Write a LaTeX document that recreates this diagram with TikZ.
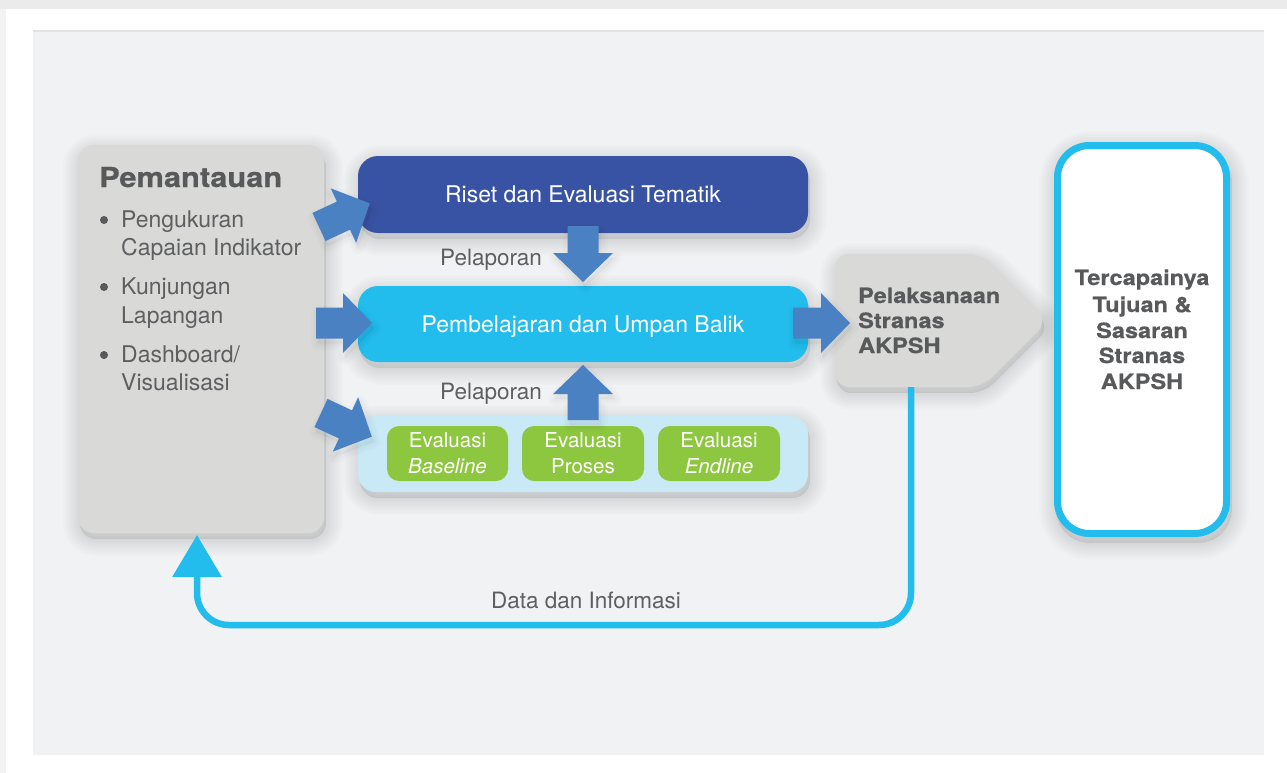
\documentclass[tikz,border=0pt]{standalone}
\usepackage{fontspec}
\setmainfont{TeX Gyre Heros}
\newfontfamily\headfont[FakeStretch=1.12,FakeBold=0.6]{TeX Gyre Heros}
\usetikzlibrary{arrows.meta}

\definecolor{outerband}{HTML}{EBEBEB}
\definecolor{panelbg}{HTML}{F1F2F4}
\definecolor{paneledge}{HTML}{E2E3E5}
\definecolor{boxgray}{HTML}{D9D9D8}
\definecolor{textgray}{HTML}{58595B}
\definecolor{lighttext}{HTML}{5E5F61}
\definecolor{darkblue}{HTML}{3953A4}
\definecolor{cyanblue}{HTML}{22BDEC}
\definecolor{paleblue}{HTML}{C9E9F7}
\definecolor{evalgreen}{HTML}{8DC63F}
\definecolor{arrowblue}{HTML}{4A81C2}

% block arrow outline: tail centre (x,y), angle, length
\newcommand\bkarrowpath[4]{[shift={(#1,#2)}, rotate=#3]
    (0,-15.5) -- ({#4-29},-15.5) -- ({#4-29},-30) -- (#4,0)
    -- ({#4-29},30) -- ({#4-29},15.5) -- (0,15.5) -- cycle}
\newcommand\bkarrow[4]{%
  \foreach \w in {2,6,10,14}{%
    \path[shadelayer,line width=\w pt,shift={(2,5)}] \bkarrowpath{#1}{#2}{#3}{#4};}
  \fill[fill=arrowblue] \bkarrowpath{#1}{#2}{#3}{#4};}

% soft drop shadow built from stacked translucent layers
\newcommand\dropshade[1]{%
  \foreach \w in {2,6,...,34}{%
    \path[shadelayer,line width=\w pt,shift={(2,6)}] #1;}}

\begin{document}
\begin{tikzpicture}[x=1pt,y=-1pt,
  shadelayer/.style={fill=black,fill opacity=0.007,draw=black,draw opacity=0.012,line join=round},
  panelbox/.style={anchor=north west,inner sep=0pt,outer sep=0pt},
  boxtext/.style={text=white,font=\fontsize{23}{28}\selectfont,anchor=base,inner sep=0pt},
  evaltext/.style={text=white,font=\fontsize{20.5}{24}\selectfont,anchor=base,inner sep=0pt},
  graytext/.style={text=lighttext,font=\fontsize{22.5}{28}\selectfont,anchor=base west,inner sep=0pt},
  headtext/.style={text=textgray,font=\headfont\bfseries\fontsize{21}{25}\selectfont,inner sep=0pt},
  bulletdot/.style={circle,fill=textgray,inner sep=0pt,minimum size=8pt},
  feedback/.style={draw=cyanblue,line width=6.5pt,rounded corners=32pt,
      -{Triangle[length=42pt,width=48pt]}}]

\useasboundingbox (0,0) rectangle (1287,773);

% page and panel background
\fill[white] (0,0) rectangle (1287,773);
\fill[outerband] (0,0) rectangle (1287,9);
\fill[outerband!60!white] (0,9) rectangle (6,773);
\fill[panelbg] (33,30) rectangle (1264,755);
\fill[paneledge] (33,30) rectangle (1264,32);

% shadows under the boxes
\dropshade{[rounded corners=16pt] (78,145) rectangle (324,533)}
\dropshade{[rounded corners=20pt] (358,156) rectangle (808,233)}
\dropshade{[rounded corners=20pt] (358,286) rectangle (808,362)}
\dropshade{[rounded corners=18pt] (358,416) rectangle (808,492)}
\dropshade{[rounded corners=14pt] (900,387) -- (835,387) -- (835,254) -- (982,254) -- (1048,321) -- (982,387) -- cycle}
\dropshade{[rounded corners=34pt] (1054,142) rectangle (1230,537)}

% monitoring box
\node[panelbox,fill=boxgray,rounded corners=16pt,
      minimum width=246pt,minimum height=388pt] (pem) at (78,145) {};
\node[headtext,font=\headfont\bfseries\fontsize{27.5}{30}\selectfont,anchor=base west]
      (pemtitle) at (99,187) {Pemantauan};
\node[bulletdot] (b1) at (104,220) {};
\node[bulletdot] (b2) at (104,287) {};
\node[bulletdot] (b3) at (104,355) {};
\node[graytext,font=\fontsize{23}{28}\selectfont] (i1a) at (121,227) {Pengukuran};
\node[graytext,font=\fontsize{23}{28}\selectfont] (i1b) at (121,255) {Capaian Indikator};
\node[graytext,font=\fontsize{23}{28}\selectfont] (i2a) at (121,294) {Kunjungan};
\node[graytext,font=\fontsize{23}{28}\selectfont] (i2b) at (121,323) {Lapangan};
\node[graytext,font=\fontsize{23}{28}\selectfont] (i3a) at (121,362) {Dashboard/};
\node[graytext,font=\fontsize{23}{28}\selectfont] (i3b) at (121,390) {Visualisasi};

% middle column
\node[panelbox,fill=darkblue,rounded corners=20pt,
      minimum width=450pt,minimum height=77pt] (riset) at (358,156) {};
\node[boxtext] (risettext) at (583,202) {Riset dan Evaluasi Tematik};

\node[panelbox,fill=cyanblue,rounded corners=20pt,
      minimum width=450pt,minimum height=76pt] (belajar) at (358,286) {};
\node[boxtext] (belajartext) at (583,332) {Pembelajaran dan Umpan Balik};

\node[panelbox,fill=paleblue,rounded corners=18pt,
      minimum width=450pt,minimum height=76pt] (evalrow) at (358,416) {};
\node[panelbox,fill=evalgreen,rounded corners=12pt,
      minimum width=121pt,minimum height=55pt] (ev1) at (387,426) {};
\node[panelbox,fill=evalgreen,rounded corners=12pt,
      minimum width=122pt,minimum height=55pt] (ev2) at (522,426) {};
\node[panelbox,fill=evalgreen,rounded corners=12pt,
      minimum width=122pt,minimum height=55pt] (ev3) at (658,426) {};
\node[evaltext] (ev1a) at (447.5,447) {Evaluasi};
\node[evaltext] (ev1b) at (447.5,473) {\itshape Baseline};
\node[evaltext] (ev2a) at (583,447) {Evaluasi};
\node[evaltext] (ev2b) at (583,473) {Proses};
\node[evaltext] (ev3a) at (719,447) {Evaluasi};
\node[evaltext] (ev3b) at (719,473) {\itshape Endline};

\node[graytext] (lap1) at (440,265) {Pelaporan};
\node[graytext] (lap2) at (440,399) {Pelaporan};

% implementation box
\path[fill=boxgray,rounded corners=14pt]
  (900,387) -- (835,387) -- (835,254) -- (982,254) -- (1048,321) -- (982,387) -- cycle;
\node[headtext,anchor=base west] (pl1) at (858,303) {Pelaksanaan};
\node[headtext,anchor=base west] (pl2) at (858,328) {Stranas};
\node[headtext,anchor=base west] (pl3) at (858,353) {AKPSH};
\coordinate (pelfoot) at (911,387);

% goal box
\node[panelbox,fill=white,draw=cyanblue,line width=7pt,rounded corners=32pt,
      minimum width=169pt,minimum height=388pt] (goal) at (1057.5,145.5) {};
\node[headtext,anchor=base] (g1) at (1142,285) {Tercapainya};
\node[headtext,anchor=base] (g2) at (1142,312) {Tujuan \&};
\node[headtext,anchor=base] (g3) at (1142,338) {Sasaran};
\node[headtext,anchor=base] (g4) at (1142,363) {Stranas};
\node[headtext,anchor=base] (g5) at (1142,389) {AKPSH};

% block arrows
\bkarrow{319}{227}{25}{56}
\bkarrow{316}{323}{0}{56}
\bkarrow{321}{413}{-25}{56}
\bkarrow{583}{226}{-90}{56}
\bkarrow{583}{420}{90}{55}
\bkarrow{793}{323}{0}{57}

% feedback loop
\coordinate (pemfoot) at (197,535);
\draw[feedback] (pelfoot) -- (911,625) -- (197,625) -- (pemfoot);
\node[graytext,anchor=base] (datainfo) at (586,608) {Data dan Informasi};

\end{tikzpicture}
\end{document}
